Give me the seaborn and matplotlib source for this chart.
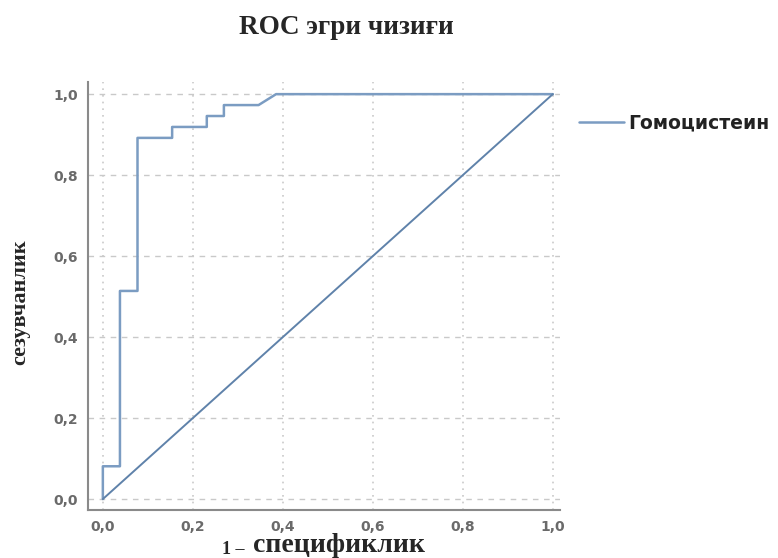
import matplotlib
matplotlib.use("Agg")
import matplotlib.pyplot as plt
import seaborn as sns
import pandas as pd

# ROC curve points (1 - specificity, sensitivity)
fpr = [0.0, 0.0, 0.038, 0.038, 0.077, 0.077, 0.154, 0.154, 0.231, 0.231, 0.269, 0.269, 0.346, 0.385, 1.0]
tpr = [0.0, 0.081, 0.081, 0.514, 0.514, 0.892, 0.892, 0.919, 0.919, 0.946, 0.946, 0.973, 0.973, 1.0, 1.0]
ref_x = [0.0, 1.0]
ref_y = [0.0, 1.0]
series_name = "Гомоцистеин"
ticks = [0.0, 0.2, 0.4, 0.6, 0.8, 1.0]
tick_labels = ["0,0", "0,2", "0,4", "0,6", "0,8", "1,0"]

sns.set_style("white")
plt.rcParams['font.family'] = ['DejaVu Sans']

fig = plt.figure(figsize=(7.78, 5.58), dpi=100)
ax = fig.add_axes([88/778, 48/558, 472/778, 428/558])

df = pd.DataFrame({"fpr": fpr, "tpr": tpr, "name": series_name})
sns.lineplot(data=df, x="fpr", y="tpr", hue="name", sort=False, estimator=None,
             palette=["#7b9cc2"], lw=1.8, ax=ax)
sns.lineplot(x=ref_x, y=ref_y, color="#5f82aa", lw=1.4, ax=ax, legend=False)

ax.set_xlim(-0.033, 1.016)
ax.set_ylim(-0.027, 1.03)
ax.set_xticks(ticks)
ax.set_xticklabels(tick_labels)
ax.set_yticks(ticks)
ax.set_yticklabels(tick_labels)
ax.tick_params(length=0, pad=7, labelsize=10, labelcolor="#6a6a6a")
for lab in ax.get_xticklabels() + ax.get_yticklabels():
    lab.set_fontweight("bold")

for t in ticks:
    ax.axhline(t, color="#c9c9c9", lw=1.0, ls=(0, (4, 4)), zorder=0)
    ax.axvline(t, color="#c9c9c9", lw=1.2, ls=(0, (1, 3)), zorder=0)

for s in ["top", "right"]:
    ax.spines[s].set_visible(False)
for s in ["left", "bottom"]:
    ax.spines[s].set_color("#8a8a8a")
    ax.spines[s].set_linewidth(1.5)

ax.set_xlabel("")
ax.set_ylabel("")

leg = ax.legend(loc="center left", bbox_to_anchor=(570/778, 1 - 123/558),
                bbox_transform=fig.transFigure, frameon=False, borderpad=0,
                handlelength=2.4, handletextpad=0.2,
                prop={"weight": "bold", "size": 13.5})
for txt in leg.get_texts():
    txt.set_color("#222222")

fig.text(346/778, 1 - 27/558, "ROC эгри чизиғи", ha="center", va="center",
         family="Liberation Serif", weight="bold", fontsize=19.5)
fig.text(20/778, 1 - 302/558, "сезувчанлик", ha="center", va="center", rotation=90,
         family="Liberation Serif", weight="bold", fontsize=16)
fig.text(222/778, 1 - 549/558, "1 –", ha="left", va="center",
         family="Liberation Serif", weight="bold", fontsize=13)
fig.text(253/778, 1 - 545/558, "спецификлик", ha="left", va="center",
         family="Liberation Serif", weight="bold", fontsize=20)

fig.savefig("out.png", dpi=100)
